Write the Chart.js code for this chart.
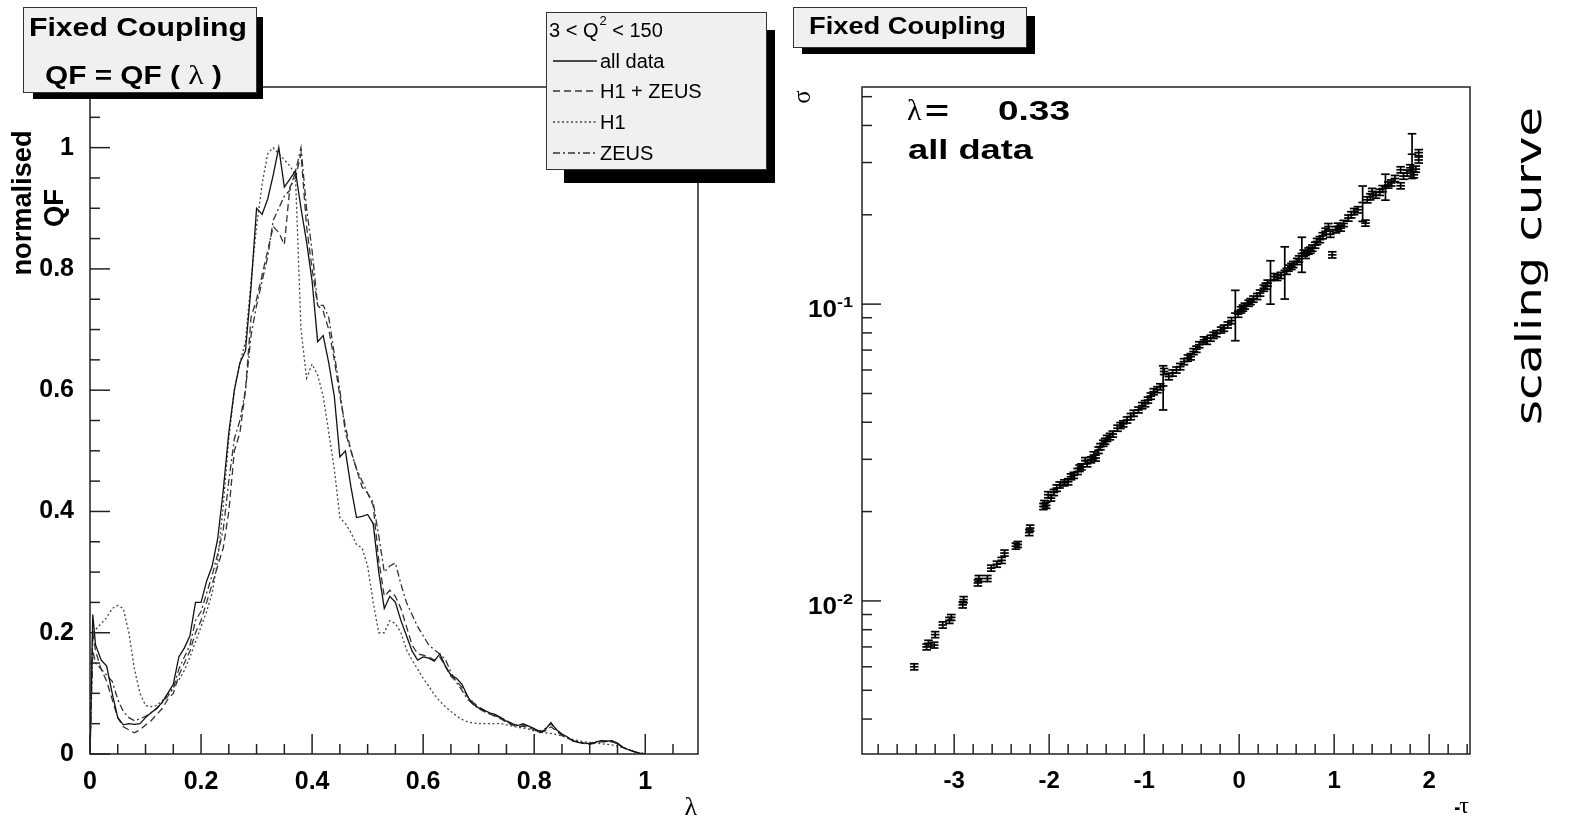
<!DOCTYPE html>
<html>
<head>
<meta charset="utf-8">
<script src="https://cdn.jsdelivr.net/npm/chart.js@4.4.1/dist/chart.umd.min.js"></script>
<style>
html, body { margin: 0; padding: 0; background: #fff; overflow: hidden; }
#wrap { position: relative; width: 1573px; height: 821px; }
#qfBox { position: absolute; left: 0; top: 0; width: 790px; height: 821px; }
#sigBox { position: absolute; left: 790px; top: 0; width: 783px; height: 821px; }
canvas { display: block; }
</style>
</head>
<body>
<div id="wrap">
  <div id="qfBox"><canvas id="qfChart" width="790" height="821"></canvas></div>
  <div id="sigBox"><canvas id="sigChart" width="783" height="821"></canvas></div>
</div>
<script>
// Left panel: normalised QF vs lambda
const lambdaVals = [0, 0.005,
  0.01, 0.02, 0.03, 0.04, 0.05, 0.06, 0.07, 0.08, 0.09, 0.10,
  0.11, 0.12, 0.13, 0.14, 0.15, 0.16, 0.17, 0.18, 0.19, 0.20,
  0.21, 0.22, 0.23, 0.24, 0.25, 0.26, 0.27, 0.28, 0.29, 0.30,
  0.31, 0.32, 0.33, 0.34, 0.35, 0.36, 0.37, 0.38, 0.39, 0.40,
  0.41, 0.42, 0.43, 0.44, 0.45, 0.46, 0.47, 0.48, 0.49, 0.50,
  0.51, 0.52, 0.53, 0.54, 0.55, 0.56, 0.57, 0.58, 0.59, 0.60,
  0.61, 0.62, 0.63, 0.64, 0.65, 0.66, 0.67, 0.68, 0.69, 0.70,
  0.71, 0.72, 0.73, 0.74, 0.75, 0.76, 0.77, 0.78, 0.79, 0.80,
  0.81, 0.82, 0.83, 0.84, 0.85, 0.86, 0.87, 0.88, 0.89, 0.90,
  0.91, 0.92, 0.93, 0.94, 0.95, 0.96, 0.97, 0.98, 0.99, 1.00];

const qfAllData = [0, 0.23,
  0.18, 0.155, 0.145, 0.10, 0.06, 0.048, 0.05, 0.049, 0.05, 0.06,
  0.068, 0.075, 0.085, 0.10, 0.115, 0.16, 0.175, 0.195, 0.25, 0.25,
  0.285, 0.31, 0.355, 0.435, 0.53, 0.60, 0.645, 0.665, 0.77, 0.90,
  0.89, 0.915, 0.955, 1.0, 0.935, 0.948, 0.962, 0.90, 0.845, 0.78,
  0.68, 0.69, 0.645, 0.59, 0.49, 0.50, 0.44, 0.39, 0.392, 0.395,
  0.38, 0.30, 0.24, 0.26, 0.25, 0.22, 0.195, 0.17, 0.155, 0.16,
  0.158, 0.153, 0.165, 0.145, 0.13, 0.125, 0.115, 0.095, 0.082, 0.076,
  0.072, 0.068, 0.065, 0.06, 0.054, 0.05, 0.047, 0.05, 0.046, 0.042,
  0.036, 0.04, 0.052, 0.04, 0.033, 0.028, 0.021, 0.019, 0.018, 0.017,
  0.019, 0.022, 0.021, 0.022, 0.018, 0.011, 0.007, 0.004, 0.001, 0];

const qfH1Zeus = [0, 0.20,
  0.17, 0.14, 0.12, 0.09, 0.06, 0.045, 0.04, 0.035, 0.04, 0.048,
  0.055, 0.065, 0.075, 0.09, 0.10, 0.13, 0.15, 0.17, 0.20, 0.22,
  0.25, 0.28, 0.31, 0.34, 0.40, 0.50, 0.53, 0.60, 0.72, 0.75,
  0.79, 0.83, 0.87, 0.86, 0.84, 0.935, 0.95, 0.99, 0.87, 0.80,
  0.74, 0.73, 0.70, 0.65, 0.59, 0.54, 0.50, 0.47, 0.44, 0.43,
  0.41, 0.32, 0.26, 0.27, 0.26, 0.24, 0.21, 0.18, 0.165, 0.163,
  0.16, 0.155, 0.16, 0.145, 0.128, 0.12, 0.11, 0.095, 0.085, 0.078,
  0.072, 0.066, 0.062, 0.058, 0.052, 0.048, 0.045, 0.046, 0.043, 0.04,
  0.035, 0.038, 0.045, 0.038, 0.03, 0.026, 0.022, 0.019, 0.017, 0.016,
  0.018, 0.02, 0.02, 0.02, 0.017, 0.011, 0.007, 0.004, 0.002, 0];

const qfH1 = [0, 0.20,
  0.205, 0.215, 0.225, 0.24, 0.245, 0.24, 0.20, 0.14, 0.10, 0.08,
  0.078, 0.08, 0.088, 0.098, 0.11, 0.122, 0.138, 0.16, 0.185, 0.21,
  0.235, 0.265, 0.32, 0.41, 0.52, 0.60, 0.645, 0.68, 0.78, 0.87,
  0.94, 0.99, 1.0, 0.99, 0.98, 0.97, 0.955, 0.70, 0.62, 0.643,
  0.625, 0.59, 0.53, 0.47, 0.39, 0.38, 0.365, 0.345, 0.34, 0.31,
  0.25, 0.20, 0.20, 0.22, 0.215, 0.20, 0.172, 0.155, 0.14, 0.125,
  0.112, 0.098, 0.087, 0.078, 0.07, 0.063, 0.057, 0.053, 0.051, 0.05,
  0.05, 0.05, 0.05, 0.05, 0.048, 0.046, 0.044, 0.043, 0.041, 0.038,
  0.036, 0.035, 0.034, 0.032, 0.03, 0.027, 0.024, 0.022, 0.02, 0.019,
  0.018, 0.017, 0.016, 0.015, 0.013, 0.01, 0.007, 0.004, 0.002, 0];

const qfZeus = [0, 0.17,
  0.15, 0.14, 0.13, 0.12, 0.09, 0.07, 0.06, 0.055, 0.058, 0.062,
  0.068, 0.075, 0.085, 0.095, 0.108, 0.14, 0.16, 0.18, 0.22, 0.235,
  0.265, 0.295, 0.33, 0.37, 0.45, 0.52, 0.55, 0.60, 0.69, 0.74,
  0.78, 0.82, 0.88, 0.90, 0.92, 0.93, 0.96, 1.0, 0.90, 0.83,
  0.74, 0.74, 0.72, 0.66, 0.60, 0.53, 0.50, 0.47, 0.45, 0.43,
  0.415, 0.36, 0.30, 0.31, 0.315, 0.28, 0.25, 0.23, 0.21, 0.195,
  0.18, 0.172, 0.165, 0.156, 0.135, 0.118, 0.105, 0.09, 0.082, 0.075,
  0.07, 0.066, 0.063, 0.06, 0.055, 0.05, 0.047, 0.048, 0.045, 0.041,
  0.038, 0.042, 0.05, 0.04, 0.032, 0.027, 0.022, 0.02, 0.018, 0.017,
  0.02, 0.022, 0.021, 0.021, 0.017, 0.01, 0.007, 0.004, 0.001, 0];

const qfLabels = ['all data', 'H1 + ZEUS', 'H1', 'ZEUS'];

// Right panel: scaling curve sigma vs -tau
const tauVals = [-3.42, -3.29, -3.27, -3.21, -3.20, -3.12, -3.05, -3.03, -2.91, -2.90,
  -2.75, -2.74, -2.65, -2.61, -2.55, -2.50, -2.47, -2.35, -2.33, -2.21,
  -2.20, -2.06, -2.05, -2.03, -2.01, -1.95, -1.89, -1.84, -1.80, -1.74,
  -1.70, -1.66, -1.62, -1.56, -1.51, -1.46, -1.43, -1.39, -1.33, -1.28,
  -1.22, -1.18, -1.11, -1.06, -0.96, -0.93, -0.90, -0.83, -0.80, -0.79,
  -0.70, -0.66, -0.62, -0.54, -0.48, -0.42, -0.37, -0.30, -0.24, -0.19,
  -0.12, -0.08, -0.04, 0.02, 0.06, 0.10, 0.15, 0.19, 0.26, 0.30,
  0.33, 0.37, 0.44, 0.48, 0.52, 0.57, 0.61, 0.66, 0.68, 0.73,
  0.77, 0.82, 0.88, 0.94, 0.98, 1.02, 1.07, 1.15, 1.21, 1.30,
  1.33, 1.35, 1.40, 1.48, 1.54, 1.60, 1.70, 1.70, 1.77, 1.82,
  1.84, 1.89, 1.89,
  -1.98, -1.92, -1.77, -1.68, -1.60, -1.53, -1.48, -1.41, -1.36, -1.25,
  -1.14, -1.02, -0.99, -0.86, -0.74, -0.58, -0.51, -0.45, -0.34, -0.27,
  -0.16, -0.01, 0.04, 0.12, 0.22, 0.28, 0.40, 0.50, 0.55, 0.63,
  0.70, 0.75, 0.80, 0.85, 0.91, 0.96, 1.04, 1.10, 1.18, 1.25,
  1.38, 1.44, 1.51, 1.57, 1.64, 1.73, 1.80, 1.86];

const sigmaVals = [0.0060, 0.0070, 0.0072, 0.0071, 0.0077, 0.0083, 0.0086, 0.0088, 0.0097, 0.0101,
  0.0115, 0.0119, 0.0119, 0.0129, 0.0133, 0.0137, 0.0145, 0.0153, 0.0155, 0.0170,
  0.0176, 0.0208, 0.0213, 0.0210, 0.0228, 0.0232, 0.0246, 0.0250, 0.0252, 0.0265,
  0.0273, 0.0283, 0.0297, 0.0299, 0.0303, 0.0331, 0.0340, 0.0353, 0.0365, 0.0382,
  0.0395, 0.0407, 0.0429, 0.0440, 0.0475, 0.0490, 0.0507, 0.0527, 0.0530, 0.0593,
  0.0586, 0.0600, 0.0616, 0.0658, 0.0692, 0.0730, 0.0758, 0.0768, 0.0795, 0.0818,
  0.0851, 0.0880, 0.0933, 0.0957, 0.0985, 0.1007, 0.1040, 0.1061, 0.1132, 0.1177,
  0.1200, 0.1239, 0.1250, 0.1300, 0.1322, 0.1360, 0.1393, 0.1480, 0.1486, 0.1510,
  0.1544, 0.1626, 0.1700, 0.1826, 0.1466, 0.1780, 0.1804, 0.1950, 0.2051, 0.2200,
  0.1875, 0.2247, 0.2398, 0.2380, 0.2490, 0.2560, 0.2836, 0.2505, 0.2765, 0.3200,
  0.2728, 0.3060, 0.3240,
  0.0222, 0.0240, 0.0262, 0.0280, 0.0290, 0.0310, 0.0322, 0.0345, 0.0358, 0.0390,
  0.0418, 0.0455, 0.0462, 0.0515, 0.0570, 0.0640, 0.0665, 0.0705, 0.0750, 0.0785,
  0.0830, 0.0925, 0.0970, 0.1020, 0.1090, 0.1150, 0.1230, 0.1290, 0.1340, 0.1420,
  0.1460, 0.1520, 0.1580, 0.1650, 0.1760, 0.1720, 0.1830, 0.1870, 0.2000, 0.2080,
  0.2300, 0.2330, 0.2450, 0.2520, 0.2650, 0.2700, 0.2880, 0.2850];

const sigmaErrs = [0.00014, 0.00016, 0.00017, 0.00016, 0.00018, 0.0002, 0.0002, 0.0002, 0.00023, 0.00024,
  0.00027, 0.00028, 0.00028, 0.0003, 0.00031, 0.00032, 0.00034, 0.00036, 0.00036, 0.0004,
  0.00041, 0.00049, 0.0005, 0.00049, 0.00054, 0.00055, 0.00058, 0.00059, 0.0006, 0.00062,
  0.00064, 0.00066, 0.0007, 0.0007, 0.00071, 0.00078, 0.0008, 0.00083, 0.00086, 0.0009,
  0.00093, 0.00096, 0.001, 0.001, 0.0011, 0.0012, 0.0012, 0.0012, 0.009, 0.0014,
  0.0014, 0.0014, 0.0015, 0.0016, 0.0016, 0.0017, 0.0018, 0.0018, 0.0019, 0.0019,
  0.002, 0.0021, 0.018, 0.0023, 0.0023, 0.0024, 0.0025, 0.0025, 0.0027, 0.0028,
  0.02, 0.0029, 0.003, 0.026, 0.0031, 0.0032, 0.0033, 0.02, 0.0035, 0.0036,
  0.0037, 0.0039, 0.004, 0.0043, 0.0035, 0.0042, 0.0043, 0.0046, 0.0049, 0.03,
  0.0044, 0.0053, 0.0057, 0.0056, 0.025, 0.006, 0.0067, 0.0059, 0.0065, 0.055,
  0.0064, 0.0072, 0.0076,
  0.0005, 0.0006, 0.0006, 0.0007, 0.0007, 0.0008, 0.0008, 0.0008, 0.0009, 0.0009,
  0.001, 0.0011, 0.0011, 0.0012, 0.0014, 0.0015, 0.0016, 0.0017, 0.0018, 0.0019,
  0.002, 0.0022, 0.0023, 0.0024, 0.0026, 0.0027, 0.0029, 0.003, 0.0032, 0.0034,
  0.0035, 0.0036, 0.0037, 0.0039, 0.0042, 0.0041, 0.0044, 0.0045, 0.0048, 0.005,
  0.0055, 0.0056, 0.0059, 0.006, 0.0064, 0.0065, 0.0069, 0.0068];

const TAU_ERR = 0.045; // half width of the horizontal bar

const FONT = "'Liberation Sans', Arial, Helvetica, sans-serif";
const SERIF = "'Liberation Serif', 'DejaVu Serif', serif";
const AXIS_COLOR = '#222';

// Helpers
function fitText(ctx, text, x, y, font, width, align) {
  ctx.save();
  ctx.font = font;
  const w = ctx.measureText(text).width;
  const sx = width ? width / w : 1;
  ctx.translate(x, y);
  ctx.scale(sx, 1);
  ctx.textAlign = align || 'center';
  ctx.textBaseline = 'middle';
  ctx.fillStyle = '#000';
  ctx.fillText(text, 0, 0);
  ctx.restore();
}

function upText(ctx, text, x, y, font, width) {
  ctx.save();
  ctx.font = font;
  const w = ctx.measureText(text).width;
  ctx.translate(x, y);
  ctx.rotate(-Math.PI / 2);
  ctx.scale(width ? width / w : 1, 1);
  ctx.textAlign = 'center';
  ctx.textBaseline = 'middle';
  ctx.fillStyle = '#000';
  ctx.fillText(text, 0, 0);
  ctx.restore();
}

// box with ROOT style shadow on right and bottom
function shadowBox(ctx, x, y, w, h, sr, sb, inset) {
  ctx.fillStyle = '#000';
  ctx.fillRect(x + w, y + inset, sr, h - inset + sb);
  ctx.fillRect(x + inset, y + h, w - inset + sr, sb);
  ctx.fillStyle = '#f0f0f0';
  ctx.fillRect(x, y, w, h);
  ctx.strokeStyle = '#333';
  ctx.lineWidth = 1;
  ctx.strokeRect(x + 0.5, y + 0.5, w - 1, h - 1);
}

function line(ctx, x1, y1, x2, y2) {
  ctx.beginPath();
  ctx.moveTo(x1, y1);
  ctx.lineTo(x2, y2);
  ctx.stroke();
}

const qfDecor = {
  id: 'qfDecor',
  afterDraw(chart) {
    const ctx = chart.ctx;
    const a = chart.chartArea;
    const xs = chart.scales.x, ys = chart.scales.y;
    ctx.save();
    ctx.strokeStyle = AXIS_COLOR;
    ctx.lineWidth = 1.5;
    ctx.setLineDash([]);
    ctx.strokeRect(a.left, a.top, a.right - a.left, a.bottom - a.top);

    // inner ticks
    for (let i = 0; i * 0.05 < xs.max; i++) {
      const px = xs.getPixelForValue(i * 0.05);
      line(ctx, px, a.bottom, px, a.bottom - (i % 4 === 0 ? 20 : 10));
    }
    for (let i = 0; i * 0.05 < ys.max - 0.01; i++) {
      const py = ys.getPixelForValue(i * 0.05);
      line(ctx, a.left, py, a.left + (i % 4 === 0 ? 20 : 10), py);
    }

    // axis titles
    upText(ctx, 'normalised', 24, 203, 'bold 27px ' + FONT, 145);
    upText(ctx, 'QF', 56, 208, 'bold 27px ' + FONT, 38);
    fitText(ctx, 'λ', 697, 808, '26px ' + SERIF, 0, 'right');

    // title box
    shadowBox(ctx, 23, 7, 234, 86, 6, 6, 10);
    fitText(ctx, 'Fixed Coupling', 138, 29, 'bold 26px ' + FONT, 218);
    ctx.save();
    ctx.font = 'bold 26px ' + FONT;
    const p1 = 'QF = QF ( ', p3 = ' )';
    const w1 = ctx.measureText(p1).width, w3 = ctx.measureText(p3).width;
    ctx.font = '28px ' + SERIF;
    const w2 = ctx.measureText('λ').width;
    const sx = 177 / (w1 + w2 + w3);
    ctx.translate(45, 77);
    ctx.scale(sx, 1);
    ctx.textBaseline = 'middle';
    ctx.textAlign = 'left';
    ctx.fillStyle = '#000';
    ctx.font = 'bold 26px ' + FONT;
    ctx.fillText(p1, 0, 0);
    ctx.font = '28px ' + SERIF;
    ctx.fillText('λ', w1, 0);
    ctx.font = 'bold 26px ' + FONT;
    ctx.fillText(p3, w1 + w2, 0);
    ctx.restore();

    // legend
    shadowBox(ctx, 546, 12, 221, 158, 8, 13, 18);
    ctx.fillStyle = '#000';
    ctx.textAlign = 'left';
    ctx.textBaseline = 'middle';
    ctx.font = '20px ' + FONT;
    ctx.fillText('3 < Q', 549, 31);
    let qx = 549 + ctx.measureText('3 < Q').width;
    ctx.font = '13px ' + FONT;
    ctx.fillText('2', qx + 1, 21);
    qx += ctx.measureText('2').width + 1;
    ctx.font = '20px ' + FONT;
    ctx.fillText(' < 150', qx, 31);
    const rows = [61, 91, 122, 153];
    chart.data.datasets.forEach((ds, i) => {
      ctx.strokeStyle = ds.borderColor;
      ctx.lineWidth = 1.3;
      ctx.setLineDash(ds.borderDash || []);
      line(ctx, 553, rows[i], 597, rows[i]);
      ctx.setLineDash([]);
      ctx.fillStyle = '#000';
      ctx.font = '20px ' + FONT;
      ctx.fillText(ds.label, 600, rows[i] + 1);
    });
    ctx.restore();
  }
};

const sigDecor = {
  id: 'sigDecor',
  afterDatasetsDraw(chart) {
    const ctx = chart.ctx;
    const a = chart.chartArea;
    const xs = chart.scales.x, ys = chart.scales.y;
    ctx.save();
    ctx.beginPath();
    ctx.rect(a.left, a.top, a.right - a.left, a.bottom - a.top);
    ctx.clip();
    ctx.strokeStyle = '#000';
    ctx.lineWidth = 1.7;
    tauVals.forEach((t, i) => {
      const s = sigmaVals[i], e = sigmaErrs[i];
      const xl = xs.getPixelForValue(t - TAU_ERR);
      const xr = xs.getPixelForValue(t + TAU_ERR);
      const xc = xs.getPixelForValue(t);
      const yc = ys.getPixelForValue(s);
      const yt = ys.getPixelForValue(s + e);
      const yb = ys.getPixelForValue(s - e);
      line(ctx, xl, yc, xr, yc);
      line(ctx, xc, yt, xc, yb);
      line(ctx, xl, yt, xr, yt);
      line(ctx, xl, yb, xr, yb);
    });
    ctx.restore();
  },
  afterDraw(chart) {
    const ctx = chart.ctx;
    const a = chart.chartArea;
    const xs = chart.scales.x, ys = chart.scales.y;
    ctx.save();
    ctx.strokeStyle = AXIS_COLOR;
    ctx.lineWidth = 1.5;
    ctx.strokeRect(a.left, a.top, a.right - a.left, a.bottom - a.top);

    // x ticks every 0.2
    for (let i = -25; i <= 15; i++) {
      const v = i / 5;
      if (v <= xs.min || v >= xs.max) continue;
      const px = xs.getPixelForValue(v);
      line(ctx, px, a.bottom, px, a.bottom - (i % 5 === 0 ? 20 : 10));
    }
    // log y ticks
    [0.001, 0.01, 0.1].forEach(d => {
      for (let m = 1; m <= 9; m++) {
        const v = m * d;
        if (v <= ys.min || v >= ys.max) continue;
        const py = ys.getPixelForValue(v);
        line(ctx, a.left, py, a.left + (m === 1 ? 19 : 10), py);
      }
    });
    // decade labels
    [[0.1, '-1'], [0.01, '-2']].forEach(([v, p]) => {
      const py = ys.getPixelForValue(v);
      fitText(ctx, '10', 47, py + 6.5, 'bold 24px ' + FONT, 29, 'right');
      fitText(ctx, p, 47, py - 1, 'bold 15px ' + FONT, 16, 'left');
    });

    upText(ctx, 'σ', 13, 97, '25px ' + SERIF, 0);
    ctx.font = '24px ' + SERIF;
    const tw = ctx.measureText('τ').width;
    fitText(ctx, 'τ', 679, 807, '24px ' + SERIF, 0, 'right');
    fitText(ctx, '-', 679 - tw + 1, 808, 'bold 22px ' + FONT, 6, 'right');

    // title box
    shadowBox(ctx, 3, 7, 234, 41, 8, 6, 9);
    fitText(ctx, 'Fixed Coupling', 117.5, 27, 'bold 24px ' + FONT, 197);

    // annotation
    fitText(ctx, 'λ', 117, 112, '30px ' + SERIF, 0, 'left');
    fitText(ctx, '=', 135, 112, 'bold 28px ' + FONT, 24, 'left');
    fitText(ctx, '0.33', 208, 112, 'bold 28px ' + FONT, 72, 'left');
    fitText(ctx, 'all data', 118, 151, 'bold 28px ' + FONT, 125, 'left');

    upText(ctx, 'scaling curve', 742, 266, "36px 'DejaVu Sans', 'Noto Sans', sans-serif", 318);
    ctx.restore();
  }
};

const tickFont = { family: FONT, weight: 'bold', size: 25 };
const fmt = v => String(Math.round(v * 10) / 10);

function qfSet(label, values, dash, color) {
  return {
    label: label,
    data: lambdaVals.map((l, i) => ({ x: l, y: values[i] })),
    borderColor: color,
    borderWidth: 1.3,
    borderDash: dash,
    pointRadius: 0,
    tension: 0,
    fill: false
  };
}

const qfChart = new Chart(document.getElementById('qfChart'), {
  type: 'line',
  data: {
    datasets: [
      qfSet(qfLabels[0], qfAllData, [], '#111'),
      qfSet(qfLabels[1], qfH1Zeus, [7, 4], '#333'),
      qfSet(qfLabels[2], qfH1, [2, 2.5], '#444'),
      qfSet(qfLabels[3], qfZeus, [7, 3, 2, 3], '#333')
    ]
  },
  options: {
    responsive: false,
    animation: false,
    events: [],
    layout: { padding: { top: 87, right: 92, left: 0, bottom: 0 } },
    scales: {
      x: {
        type: 'linear', min: 0, max: 1.095,
        afterFit: s => { s.height = 67; },
        grid: { display: false }, border: { display: false },
        ticks: { stepSize: 0.2, includeBounds: false, autoSkip: false, maxRotation: 0,
                 padding: 5, color: '#000', font: tickFont, callback: fmt }
      },
      y: {
        type: 'linear', min: 0, max: 1.1,
        afterFit: s => { s.width = 90; },
        grid: { display: false }, border: { display: false },
        ticks: { stepSize: 0.2, includeBounds: false, autoSkip: false,
                 padding: 8, color: '#000', font: tickFont, callback: fmt }
      }
    },
    plugins: { legend: { display: false }, tooltip: { enabled: false } }
  },
  plugins: [qfDecor]
});

const sigChart = new Chart(document.getElementById('sigChart'), {
  type: 'scatter',
  data: {
    datasets: [{
      label: 'all data',
      data: tauVals.map((t, i) => ({ x: t, y: sigmaVals[i] })),
      pointRadius: 0,
      showLine: false
    }]
  },
  options: {
    responsive: false,
    animation: false,
    events: [],
    layout: { padding: { top: 87, right: 103, left: 0, bottom: 0 } },
    scales: {
      x: {
        type: 'linear', min: -3.97, max: 2.43,
        afterFit: s => { s.height = 67; },
        grid: { display: false }, border: { display: false },
        ticks: { stepSize: 1, includeBounds: false, autoSkip: false, maxRotation: 0,
                 padding: 5, color: '#000', font: { family: FONT, weight: 'bold', size: 24 },
                 callback: v => String(v) }
      },
      y: {
        type: 'logarithmic', min: 0.00305, max: 0.539,
        afterFit: s => { s.width = 72; },
        grid: { display: false }, border: { display: false },
        ticks: { display: false }
      }
    },
    plugins: { legend: { display: false }, tooltip: { enabled: false } }
  },
  plugins: [sigDecor]
});
</script>
</body>
</html>
